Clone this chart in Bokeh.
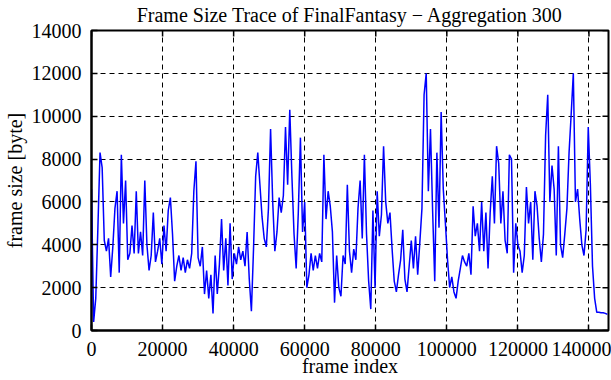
import math
from bokeh.plotting import figure
from bokeh.models import FixedTicker, NumeralTickFormatter, Range1d
from bokeh.embed import file_html
from bokeh.resources import INLINE

# frame index step of the sampled trace (aggregation points)
frame_step = 600

# frame size values (bytes), one per 600 frames
sizes_a = [6600, 400, 1500, 4800, 8300, 7600, 4200, 3700, 4300, 2500,
           3900, 5700, 6500, 2700, 8200, 5000, 7000, 3300, 3600, 4900,
           3600, 6500, 3600, 4600, 3500, 7000, 4000, 2800, 3500, 5500,
           3200, 3700, 4300, 3100, 4900, 3700, 5600, 6200, 4500, 2300]
sizes_b = [3000, 3500, 2800, 3400, 2700, 3300, 2900, 3600, 6500, 7900,
           3400, 3000, 3900, 1700, 2800, 1500, 2600, 800, 3500, 1700,
           3100, 5200, 2800, 4300, 2100, 5000, 2400, 3600, 3100, 3900,
           3300, 3700, 3000, 4600, 2400, 900, 3800, 7200, 8300, 6800]
sizes_c = [5300, 4300, 3900, 5700, 9400, 6000, 3700, 4600, 6200, 5500,
           6300, 9500, 6800, 10300, 7200, 4500, 2900, 5500, 9000, 4600,
           6000, 2000, 2600, 3600, 2800, 3500, 2900, 3600, 3200, 8200,
           5200, 6500, 5800, 4600, 1300, 3500, 2000, 1600, 3500]
sizes_d = [3100, 6800, 3700, 2700, 3800, 3300, 5700, 7000, 4300, 8200,
           4500, 2300, 1000, 5600, 2000, 6500, 4400, 5400, 8600, 6000,
           5000, 5500, 3800, 2300, 1800, 2600, 3300, 4700, 2400, 1800,
           3000, 4200, 2900, 4400, 2600, 4100, 5700, 11000, 12000, 6500]
sizes_e = [9400, 5600, 2300, 8300, 4800, 10200, 6600, 5000, 3300, 2000,
           2500, 1800, 1500, 2300, 2900, 3500, 3200, 3000, 3600, 2600,
           5800, 4400, 5000, 3700, 6000, 3700, 5500, 2900, 5500, 7200,
           5000, 8600, 7800, 5000, 6500, 4200, 3600, 8200, 8000, 2700]
sizes_f = [5000, 4000, 3700, 2700, 3500, 6700, 5000, 6000, 3300, 6500,
           5800, 4300, 3200, 4500, 9100, 11000, 6000, 7700, 6600, 3500,
           8600, 4000, 3400, 4500, 5700, 8300, 10100, 12000, 6000, 6600,
           5200, 4000, 3500, 4700, 9500, 6800, 3000, 1500, 850, 850,
           830, 830, 800, 750]

sizes = sizes_a + sizes_b + sizes_c + sizes_d + sizes_e + sizes_f
frames = [i * frame_step for i in range(len(sizes))]

x_ticks = [0, 20000, 40000, 60000, 80000, 100000, 120000, 140000]
y_ticks = [0, 2000, 4000, 6000, 8000, 10000, 12000, 14000]
x_max = 145500
y_max = 14000

FONT = "Times New Roman"
FS = "20px"

p = figure(width=611, height=380, output_backend="svg", toolbar_location=None,
           x_range=Range1d(0, x_max), y_range=Range1d(0, y_max),
           min_border_left=91, min_border_right=3, min_border_top=30,
           min_border_bottom=50,
           title="Frame Size Trace of FinalFantasy \u2212 Aggregation 300")

p.title.text_font = FONT
p.title.text_font_size = FS
p.title.text_font_style = "normal"
p.title.text_color = "black"
p.title.align = "center"
p.title.vertical_align = "top"
p.title.standoff = 6
p.title.offset = 0

p.background_fill_color = "white"
p.border_fill_color = "white"
p.outline_line_color = "black"
p.outline_line_width = 2

for ax in (p.xaxis[0], p.yaxis[0]):
    ax.axis_line_width = 2
    ax.major_tick_in = 6
    ax.major_tick_out = 0
    ax.major_tick_line_width = 1.5
    ax.minor_tick_line_color = None
    ax.major_label_text_font = FONT
    ax.major_label_text_font_size = FS
    ax.major_label_text_font_style = "normal"
    ax.major_label_text_color = "black"
    ax.axis_label_text_font = FONT
    ax.axis_label_text_font_size = FS
    ax.axis_label_text_font_style = "normal"
    ax.axis_label_text_color = "black"
    ax.formatter = NumeralTickFormatter(format="0")

p.xaxis[0].ticker = FixedTicker(ticks=x_ticks)
p.yaxis[0].ticker = FixedTicker(ticks=y_ticks)
p.xaxis[0].axis_label = "frame index"
p.yaxis[0].axis_label = "frame size [byte]"
p.xaxis[0].major_label_standoff = 11
p.xaxis[0].axis_label_standoff = -4
p.yaxis[0].major_label_standoff = 10
p.yaxis[0].axis_label_standoff = 3

p.xgrid.ticker = FixedTicker(ticks=x_ticks)
p.ygrid.ticker = FixedTicker(ticks=y_ticks)
for g in (p.xgrid[0], p.ygrid[0]):
    g.grid_line_color = "black"
    g.grid_line_dash = "5 4"
    g.grid_line_width = 1

p.line(frames, sizes, line_color="#0000ff", line_width=1.5)

# mirrored inward tick marks on the top and right frame edges
p.ray(x=x_ticks, y=[y_max] * len(x_ticks), length=6, length_units="screen",
      angle=-math.pi / 2, line_color="black", line_width=1.5)
p.ray(x=[x_max] * len(y_ticks), y=y_ticks, length=6, length_units="screen",
      angle=math.pi, line_color="black", line_width=1.5)

html = file_html(p, INLINE)
html = html.replace("<head>", "<head><style>html,body{overflow:hidden}</style>", 1)
open("out.html", "w").write(html)
